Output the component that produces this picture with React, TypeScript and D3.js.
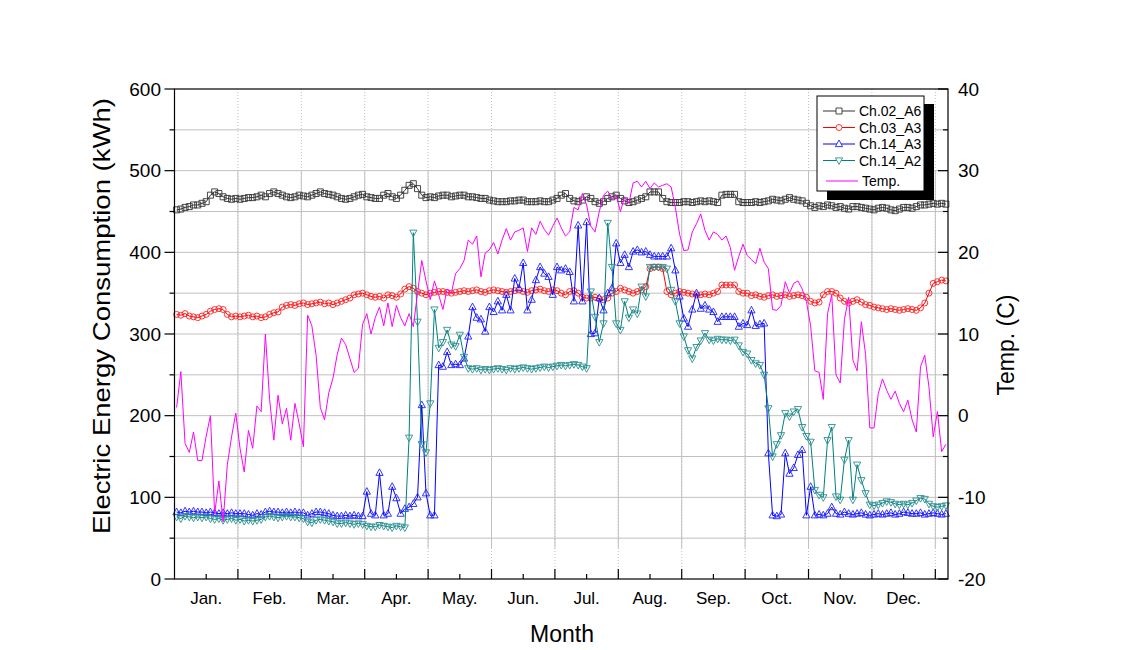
import React from 'react';
import * as d3 from 'd3';

const months = ['Jan.', 'Feb.', 'Mar.', 'Apr.', 'May.', 'Jun.', 'Jul.', 'Aug.', 'Sep.', 'Oct.', 'Nov.', 'Dec.'];
const dayStart = 1;
const dayStep = 2;

const ch02A6 = [
  452, 453, 455, 456, 458, 458, 460, 462, 470, 474,
  472, 468, 466, 465, 466, 465, 466, 467, 467, 468,
  470, 468, 472, 474, 472, 470, 468, 467, 468, 470,
  469, 468, 470, 472, 474, 472, 471, 470, 468, 466,
  465, 466, 468, 470, 471, 468, 467, 466, 466, 470,
  472, 468, 466, 470, 476, 482, 484, 478, 470, 467,
  468, 467, 469, 470, 470, 468, 469, 470, 470, 468,
  468, 467, 466, 466, 464, 463, 462, 462, 462, 463,
  463, 464, 464, 462, 462, 462, 463, 462, 462, 464,
  466, 470, 472, 466, 463, 462, 464, 468, 466, 462,
  460, 462, 466, 468, 470, 466, 463, 461, 462, 464,
  466, 468, 474, 474, 474, 466, 462, 461, 461, 461,
  462, 462, 461, 462, 463, 462, 463, 462, 461, 470,
  471, 471, 471, 462, 461, 461, 461, 462, 461, 462,
  463, 465, 464, 463, 465, 467, 465, 464, 463, 460,
  457, 455, 457, 456, 458, 457, 455, 456, 454, 453,
  456, 456, 455, 454, 453, 452, 454, 455, 454, 452,
  451, 453, 455, 455, 454, 456, 458, 458, 459, 460,
  459, 460, 459,
];

const ch03A3 = [
  324, 323, 325, 322, 321, 320, 322, 324, 328, 330,
  331, 330, 324, 321, 322, 321, 322, 323, 321, 322,
  320, 321, 324, 326, 327, 333, 335, 336, 335, 337,
  338, 336, 337, 338, 339, 337, 338, 336, 338, 340,
  342, 344, 348, 349, 350, 348, 346, 345, 346, 344,
  348, 347, 345, 349, 355, 358, 356, 352, 350, 348,
  350, 351, 352, 352, 351, 350, 351, 352, 353, 352,
  353, 354, 352, 351, 353, 354, 353, 352, 351, 352,
  353, 354, 352, 351, 353, 354, 355, 353, 352, 354,
  353, 350, 348, 352, 353, 350, 345, 344, 344, 345,
  343, 342, 344, 350, 352, 356, 354, 352, 350, 352,
  354, 358, 380, 382, 382, 380, 352, 348, 350, 352,
  351, 350, 349, 348, 348, 349, 348, 350, 352, 360,
  360, 360, 360, 352, 350, 350, 347, 348, 346, 345,
  347, 348, 346, 347, 348, 346, 347, 348, 347, 345,
  340, 338, 339, 348, 352, 352, 350, 344, 340, 338,
  340, 342, 339, 336, 335, 333, 332, 331, 330, 331,
  330, 329, 330, 331, 330, 329, 332, 338, 350, 362,
  364, 366, 365,
];

const ch14A3 = [
  82, 81, 83, 82, 83, 82, 82, 81, 82, 81,
  80, 81, 80, 81, 80, 80, 80, 79, 78, 80,
  79, 82, 83, 82, 82, 81, 82, 81, 82, 81,
  81, 78, 80, 82, 82, 81, 80, 78, 77, 77,
  78, 77, 78, 77, 77, 107, 80, 78, 130, 78,
  80, 113, 99, 80, 86, 88, 92, 100, 213, 105,
  78, 78, 262, 260, 278, 262, 263, 262, 270, 297,
  333, 320, 318, 303, 333, 327, 340, 329, 348, 329,
  368, 356, 387, 329, 342, 366, 382, 374, 370, 348,
  382, 378, 380, 376, 340, 433, 340, 437, 300, 301,
  344, 329, 350, 356, 411, 387, 397, 382, 401, 403,
  400, 401, 397, 395, 395, 395, 395, 405, 378, 346,
  319, 309, 330, 350, 331, 335, 330, 327, 315, 321,
  321, 321, 321, 309, 313, 311, 329, 310, 312, 313,
  154, 78, 77, 79, 154, 129, 136, 152, 158, 78,
  113, 78, 79, 78, 80, 88, 80, 79, 82, 80,
  79, 80, 81, 79, 78, 79, 80, 79, 80, 81,
  79, 80, 82, 81, 80, 80, 81, 79, 80, 81,
  80, 79, 80,
];

const ch14A2 = [
  76, 74, 77, 76, 75, 76, 75, 76, 74, 73,
  74, 72, 73, 74, 72, 73, 71, 72, 71, 72,
  73, 76, 77, 76, 75, 76, 77, 76, 76, 75,
  74, 70, 69, 72, 73, 72, 71, 70, 68, 68,
  69, 68, 67, 68, 67, 65, 64, 64, 66, 65,
  64, 63, 65, 64, 63, 173, 424, 315, 165, 155,
  215, 330, 283, 290, 305, 287, 285, 299, 272, 258,
  257, 258, 256, 257, 256, 257, 258, 257, 256, 258,
  257, 258, 259, 258, 257, 258, 259, 260, 259, 260,
  261, 262, 261, 262, 263, 262, 260, 258, 352, 321,
  290, 313, 436, 382, 313, 305, 340, 320, 330, 325,
  358, 346, 382, 382, 382, 382, 380, 354, 340, 313,
  297, 280, 270, 284, 292, 301, 293, 292, 294, 293,
  293, 292, 293, 286, 278, 276, 268, 264, 262, 250,
  209, 150, 165, 176, 203, 199, 205, 208, 186, 175,
  168, 109, 103, 100, 170, 186, 101, 97, 146, 170,
  97, 140, 121, 105, 91, 90, 91, 93, 95, 94,
  92, 91, 92, 91, 93, 96, 99, 98, 92, 89,
  88, 89, 90,
];

const temp = [
  1, 5.4, -3.4, -4.5, -2, -5.5, -5.5, -2.5, 0, -12,
  -8, -13, -6, -2.6, 0.3, -4, -6.9, -1.8, -4, 1.2,
  0.5, 10, 2, -3, 2.5, -1, 0.9, -3, 1.5, -1,
  -3.8, 12.3, 11, 7.4, 1, -0.5, 2.8, 4.6, 7.5, 9.5,
  8.7, 7, 5.3, 5.8, 11.2, 12.5, 10, 12, 13.3, 11,
  13.8, 10.9, 13.5, 12, 11, 12.5, 10.9, 15, 19, 16.5,
  14.2, 16.5, 14.8, 13, 15.5, 15, 17.4, 18, 19, 21.5,
  21, 22, 17, 19.9, 20.3, 21.2, 19.8, 21.5, 22.9, 21.5,
  22.5, 22.7, 23, 20.1, 23, 22.2, 23.8, 22.8, 22.1, 23.2,
  24.2, 23, 22, 22.5, 25.5, 25.2, 27.2, 25.8, 23.2, 22.5,
  25, 27, 27.5, 26.5, 27, 25, 26.8, 26, 28.5, 28.7,
  28, 28.7, 27.8, 28.5, 28, 28.2, 28.4, 28, 25.5, 22.2,
  20.2, 20.3, 22.5, 23.5, 24.7, 22.7, 21.5, 22.5, 22.2, 21.5,
  22, 20.6, 17.8, 19.5, 21, 19.6, 19.1, 18.6, 20.5, 18.8,
  18, 13, 12.9, 13.5, 16.4, 15, 16.2, 16.5, 15.5, 14,
  11, 5.5, 5.3, 2, 12.5, 14.8, 5, 4, 11.8, 14.5,
  6.8, 5.5, 11.5, 7.5, -1.5, -1.5, 2.7, 4.5, 3.1, 2,
  3, 1.5, 0.5, 1.9, -0.5, -2, 6, 7.4, 3.5, -2.6,
  0.5, -4.4, -3.5,
];

const leftTicks = [0, 100, 200, 300, 400, 500, 600];
const rightTicks = [-20, -10, 0, 10, 20, 30, 40];
const seriesNames = ['Ch.02_A6', 'Ch.03_A3', 'Ch.14_A3', 'Ch.14_A2'];
const tempName = 'Temp.';

const FONT = "Arial, 'Liberation Sans', sans-serif";

type Shape = 'square' | 'circle' | 'up' | 'down';

function markerPath(shape: Shape, cx: number, cy: number): string {
  if (shape === 'square') return `M${cx - 3},${cy - 3}h6v6h-6Z`;
  if (shape === 'circle') return `M${cx - 3},${cy}a3,3 0 1,0 6,0a3,3 0 1,0 -6,0Z`;
  if (shape === 'up') return `M${cx},${cy - 4}L${cx + 3.6},${cy + 2.6}L${cx - 3.6},${cy + 2.6}Z`;
  return `M${cx},${cy + 4}L${cx + 3.6},${cy - 2.6}L${cx - 3.6},${cy - 2.6}Z`;
}

export default function App() {
  const W = 1138;
  const H = 650;
  const L = 174.5;
  const R = 948;
  const T = 89;
  const B = 579;

  const x = d3.scaleLinear().domain([0, 366]).range([L, R]);
  const yL = d3.scaleLinear().domain([0, 600]).range([B, T]);
  const yR = d3.scaleLinear().domain([-20, 40]).range([B, T]);
  const days = ch02A6.map((_, i) => dayStart + dayStep * i);

  const lineL = d3
    .line<number>()
    .x((_, i) => x(days[i]))
    .y((v) => yL(v));
  const lineR = d3
    .line<number>()
    .x((_, i) => x(days[i]))
    .y((v) => yR(v));

  const series: { vals: number[]; color: string; mcolor: string; shape: Shape }[] = [
    { vals: ch02A6, color: '#333333', mcolor: '#333333', shape: 'square' },
    { vals: ch03A3, color: '#ff0000', mcolor: '#ff2020', shape: 'circle' },
    { vals: ch14A3, color: '#0000ff', mcolor: '#2020ff', shape: 'up' },
    { vals: ch14A2, color: '#008080', mcolor: '#2a8f8f', shape: 'down' },
  ];

  const majorX = d3.range(30, 361, 30);
  const minorX = d3.range(15, 366, 30);
  const gridY = d3.range(50, 600, 50);
  const minorL = d3.range(50, 600, 100);
  const minorR = d3.range(-15, 40, 10);

  const legendRowsY = [111, 127.5, 144, 160.5];

  return (
    <svg
      width={W}
      height={H}
      style={{ position: 'absolute', left: 0, top: 0, background: '#fff' }}
      fontFamily={FONT}
    >
      <rect x={0} y={0} width={W} height={H} fill="#fff" />
      {/* grid */}
      {gridY.map((v) => (
        <line key={'gy' + v} x1={L} x2={R} y1={yL(v)} y2={yL(v)} stroke="#c0c0c0" strokeWidth={1} />
      ))}
      {majorX.map((d) => (
        <g key={'gx' + d}>
          <line x1={x(d)} x2={x(d)} y1={T} y2={B} stroke="#c0c0c0" strokeWidth={1} strokeDasharray="1,2" />
          <line x1={x(d)} x2={x(d)} y1={yR(30)} y2={yL(38)} stroke="#c0c0c0" strokeWidth={1} />
        </g>
      ))}

      {/* series */}
      {series.map((s, si) => (
        <g key={'s' + si}>
          <path d={lineL(s.vals) || ''} fill="none" stroke={s.color} strokeWidth={1} />
          <path
            d={s.vals.map((v, i) => markerPath(s.shape, x(days[i]), yL(v))).join('')}
            fill="none"
            stroke={s.mcolor}
            strokeWidth={0.9}
          />
        </g>
      ))}
      <path d={lineR(temp) || ''} fill="none" stroke="#ff00ff" strokeWidth={1} />

      {/* frame */}
      <rect x={L} y={T} width={R - L} height={B - T} fill="none" stroke="#000" strokeWidth={1.2} />

      {/* left axis ticks */}
      {leftTicks.map((v) => (
        <g key={'lt' + v}>
          <line x1={L - 10} x2={L} y1={yL(v)} y2={yL(v)} stroke="#000" strokeWidth={1.2} />
          <text x={161} y={yL(v)} dominantBaseline="central" textAnchor="end" fontSize={19} fill="#000">
            {v}
          </text>
        </g>
      ))}
      {minorL.map((v) => (
        <line key={'lm' + v} x1={L - 5} x2={L} y1={yL(v)} y2={yL(v)} stroke="#000" strokeWidth={1.2} />
      ))}

      {/* right axis ticks */}
      {rightTicks.map((v) => (
        <g key={'rt' + v}>
          <line x1={R - 10} x2={R} y1={yR(v)} y2={yR(v)} stroke="#000" strokeWidth={1.2} />
          <text x={958} y={yR(v)} dominantBaseline="central" textAnchor="start" fontSize={19} fill="#000">
            {v}
          </text>
        </g>
      ))}
      {minorR.map((v) => (
        <line key={'rm' + v} x1={R - 5} x2={R} y1={yR(v)} y2={yR(v)} stroke="#000" strokeWidth={1.2} />
      ))}

      {/* bottom axis */}
      {majorX.map((d) => (
        <line key={'bt' + d} x1={x(d)} x2={x(d)} y1={B} y2={B - 10} stroke="#000" strokeWidth={1.2} />
      ))}
      {minorX.map((d, i) => (
        <g key={'bm' + d}>
          <line x1={x(d)} x2={x(d)} y1={B} y2={B - 5} stroke="#000" strokeWidth={1.2} />
          <text x={x(d)} y={598} dominantBaseline="central" textAnchor="middle" fontSize={17} fill="#000">
            {months[i]}
          </text>
        </g>
      ))}

      {/* titles */}
      <text x={562} y={634} dominantBaseline="central" textAnchor="middle" fontSize={23} fill="#000">
        Month
      </text>
      <text
        transform="translate(101,316) rotate(-90)"
        dominantBaseline="central"
        textAnchor="middle"
        fontSize={24}
        textLength={436}
        lengthAdjust="spacingAndGlyphs"
        fill="#000"
      >
        Electric Energy Consumption (kWh)
      </text>
      <text
        transform="translate(1006,345) rotate(-90)"
        dominantBaseline="central"
        textAnchor="middle"
        fontSize={23}
        fill="#000"
      >
        Temp. (C)
      </text>

      {/* legend */}
      <rect x={827} y={104} width={107} height={96} fill="#000" />
      <rect x={817} y={96} width={107} height={95} fill="#fff" stroke="#000" strokeWidth={1} />
      {series.map((s, i) => (
        <g key={'lg' + i}>
          <line x1={823} x2={855} y1={legendRowsY[i]} y2={legendRowsY[i]} stroke={s.color} strokeWidth={1} />
          <path d={markerPath(s.shape, 839, legendRowsY[i])} fill="#fff" stroke={s.mcolor} strokeWidth={0.9} />
          <text x={859} y={legendRowsY[i]} dominantBaseline="central" fontSize={14} fill="#000">
            {seriesNames[i]}
          </text>
        </g>
      ))}
      <line x1={826} x2={858} y1={181} y2={181} stroke="#ff00ff" strokeWidth={1} />
      <text x={862} y={181} dominantBaseline="central" fontSize={14} fill="#000">
        {tempName}
      </text>
    </svg>
  );
}
